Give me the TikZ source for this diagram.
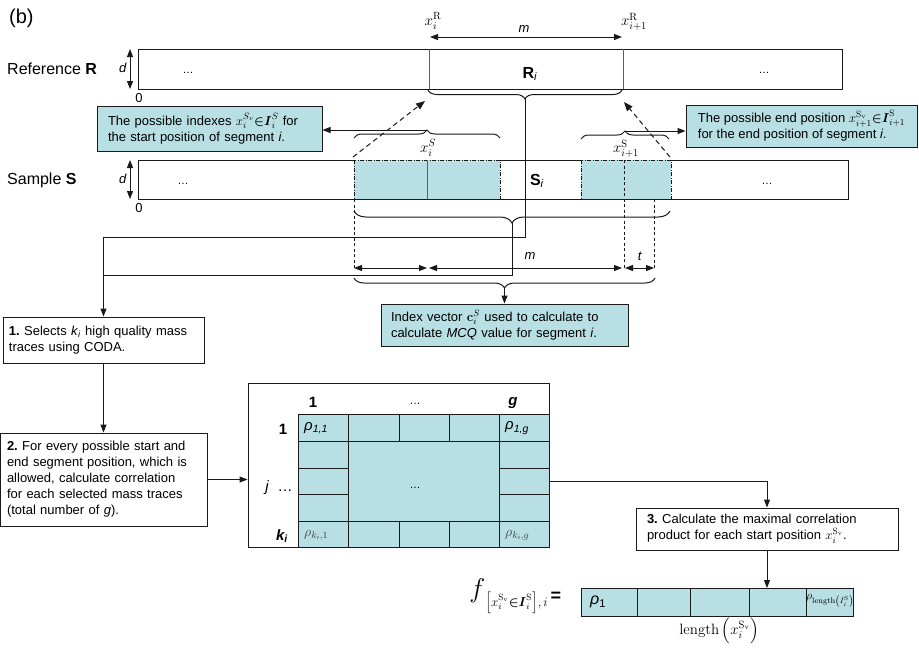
\RequirePackage{fix-cm}
\documentclass[tikz,border=0pt]{standalone}
\usepackage{amsmath}
\usepackage[no-math]{fontspec}
\setmainfont{Liberation Sans}
\usetikzlibrary{arrows.meta,decorations.pathreplacing}
\definecolor{tealfill}{RGB}{184,223,227}
\definecolor{edgec}{RGB}{25,25,25}
\definecolor{grayline}{RGB}{95,95,95}
\tikzset{
  base/.style={line width=1pt, draw=edgec},
  arr/.style={base, -{Triangle[length=8pt,width=6pt]}},
  dblarr/.style={base, {Triangle[length=8pt,width=6pt]}-{Triangle[length=8pt,width=6pt]}},
  brc/.style={base, decorate, decoration={brace, amplitude=#1}},
  brc/.default=8pt,
  mbrc/.style={base, decorate, decoration={brace, mirror, amplitude=#1}},
  mbrc/.default=8pt,
  txt/.style={inner sep=0pt, font=\fontsize{13}{16}\selectfont},
  mlab/.style={inner sep=0pt, font=\fontsize{15}{17}\selectfont},
  big/.style={inner sep=0pt, font=\fontsize{16}{19}\selectfont},
  dots/.style={inner sep=0pt, font=\fontsize{11}{13}\selectfont},
  flowbox/.style={base, fill=white, align=left, font=\fontsize{13}{16}\selectfont, inner xsep=4pt, inner ysep=0pt},
  callbox/.style={flowbox, fill=tealfill},
  dsh/.style={base, line width=0.8pt, dash pattern=on 3pt off 2.5pt},
  dsharr/.style={base, dash pattern=on 5pt off 3.5pt, -{Triangle[length=9pt,width=7pt]}},
  tealbox/.style={fill=tealfill, draw=edgec, line width=0.8pt, dash pattern=on 4pt off 1.5pt on 1pt off 1.5pt},
}
\begin{document}
\frenchspacing
\begin{tikzpicture}[x=1pt,y=-1pt]
\useasboundingbox (0,0) rectangle (919,649);

\node[anchor=west, inner sep=0pt, font=\fontsize{20}{22}\selectfont] (title) at (9,18) {(b)};

% ---------- Reference bar ----------
\draw[base] (138,49) rectangle (842,89);
\draw[base, draw=grayline] (429,49) -- (429,89);
\draw[base, draw=grayline] (623,49) -- (623,89);
\node[big, anchor=west] (reflbl) at (7,69) {Reference \textbf{R}};
\node[txt, anchor=east] (dR) at (127,68) {\textit{d}};
\coordinate (dRt) at (130,49); \coordinate (dRb) at (130,89);
\draw[dblarr] (dRt) -- (dRb);
\node[txt] (zR) at (139,98) {0};
\node[dots] (dotsR1) at (188,73) {…};
\node[dots] (dotsR2) at (764,73) {…};
\node[big] (Ri) at (530,74) {\textbf{R}\textsubscript{\textit{i}}};
\coordinate (xR1) at (430,37); \coordinate (xR2) at (622,37);
\draw[dblarr] (xR1) -- (xR2);
\node[txt] (mtop) at (524,29) {\textit{m}};
\node[mlab] (xRi) at (433,21) {$x_i^{\mathrm{R}}$};
\node[mlab] (xRi1) at (634,22) {$x_{i+1}^{\mathrm{R}}$};
\draw[mbrc=9pt] (428,90) -- (622,90);
\coordinate (Rtip) at (525,99);

% ---------- Sample bar ----------
\draw[base] (138,160) rectangle (848,199);
\draw[tealbox] (354,160) rectangle (500,199);
\draw[base, draw=grayline] (427,160) -- (427,199);
\draw[tealbox] (581,160) rectangle (671,199);
\node[big, anchor=west] (smplbl) at (7,180) {Sample \textbf{S}};
\node[txt, anchor=east] (dS) at (127,179) {\textit{d}};
\coordinate (dSt) at (130,160); \coordinate (dSb) at (130,199);
\draw[dblarr] (dSt) -- (dSb);
\node[txt] (zS) at (139,208) {0};
\node[dots] (dotsS1) at (183,184) {…};
\node[dots] (dotsS2) at (767,184) {…};
\node[big] (Si) at (537,181) {\textbf{S}\textsubscript{\textit{i}}};

% braces above the sample windows
\draw[brc=8pt] (354,138) -- (500,138);
\coordinate (Atip) at (427,130);
\node[mlab] (xSi) at (428,148) {$x_i^{S}$};
\draw[brc=8pt] (581,139) -- (669,139);
\coordinate (Btip) at (625,131);
\node[mlab] (xSi1) at (626,149) {$x_{i+1}^{\mathrm{S}}$};

% callouts
\node[callbox, inner xsep=11pt, text width=203pt, minimum height=45pt] (cL) at (209.5,128.5)
  {The possible indexes $x_i^{S_{v}}\mathord{\boldsymbol{\in}}\boldsymbol{I}_i^{S}$ for\\the start position of segment \textit{i}.};
\node[callbox, minimum width=231pt, minimum height=42pt] (cR) at (801.5,126)
  {The possible end position $x_{i+1}^{\mathrm{S}_{\mathrm{v}}}\mathord{\boldsymbol{\in}}\boldsymbol{I}_{i+1}^{\mathrm{S}}$\\for the end position of segment \textit{i}.};
\draw[arr] (Atip) -- (Atip -| cL.east);
\draw[arr] (Btip) -- (Btip -| cR.west);

% dashed pointers to R_i
\coordinate (dA0) at (353,157); \coordinate (dA1) at (425,101);
\coordinate (dB0) at (670,157); \coordinate (dB1) at (624,102);
\draw[dsharr] (dA0) -- (dA1);
\draw[dsharr] (dB0) -- (dB1);

% ---------- lower braces and dimension arrows ----------
\draw[mbrc=12pt] (354,211) -- (670,211);
\coordinate (Stip) at (512,223);

\node[flowbox, inner xsep=6pt, text width=189pt, minimum height=46pt] (b1) at (103.5,340)
  {\textbf{1.} Selects \textit{k}\textsubscript{\textit{i}} high quality mass\\traces using CODA.};

\coordinate (j1) at (103.5,237);
\coordinate (j2) at (103.5,275);
\draw[arr] (Rtip) -- (Rtip |- j1) -- (j1) -- (b1.north);
\draw[base] (Stip) -- (Stip |- j2) -- (j2);

\coordinate (v1) at (354,268); \coordinate (v2) at (427,268);
\coordinate (v3) at (624,268); \coordinate (v4) at (654,268);
\draw[dsh] (354,199) -- (v1);
\draw[dsh] (624,160) -- (v3);
\draw[dsh] (654,199) -- (v4);
\draw[dblarr] (v1) -- (v2);
\draw[dblarr] ([xshift=2pt]v2) -- ([xshift=-2pt]v3);
\draw[dblarr] ([xshift=1pt]v3) -- (v4);
\node[txt] (mlow) at (530,256) {\textit{m}};
\node[txt] (tlow) at (640,256) {\textit{t}};

\draw[mbrc=10pt] (354,278) -- (655,278);
\coordinate (Ctip) at (504.5,288);
\node[callbox, inner xsep=10pt, text width=227pt, minimum height=42pt] (cB) at (504.5,325)
  {Index vector $\mathbf{c}_i^{S}$ used to calculate to\\calculate \textit{MCQ} value for segment \textit{i}.};
\draw[arr] (Ctip) -- (cB.north);

% ---------- flow ----------
\node[flowbox, inner xsep=7pt, text width=193pt, minimum height=93pt] (b2) at (103.5,479.5)
  {\textbf{2.} For every possible start and\\end segment position, which is\\allowed, calculate correlation\\for each selected mass traces\\(total number of \textit{g}).};
\draw[arr] (b1.south) -- (b2.north);

% matrix
\node[base, draw, minimum width=301pt, minimum height=164pt, inner sep=0pt] (mat) at (398.5,465) {};
\fill[tealfill] (298,414) rectangle (549,547);
\draw[base] (298,414) -- (549,414);
\draw[base] (298,441) -- (549,441);
\draw[base] (298,521) -- (549,521);
\draw[base] (298,547) -- (549,547);
\draw[base] (298,468) -- (348,468);
\draw[base] (298,494) -- (348,494);
\draw[base] (499,468) -- (549,468);
\draw[base] (499,494) -- (549,494);
\draw[base] (298,414) -- (298,547);
\draw[base] (348,414) -- (348,547);
\draw[base] (499,414) -- (499,547);
\draw[base] (549,383) -- (549,547);
\draw[base] (399,414) -- (399,441);
\draw[base] (449,414) -- (449,441);
\draw[base] (399,521) -- (399,547);
\draw[base] (449,521) -- (449,547);

\node[big, font=\bfseries\fontsize{15}{18}\selectfont] (h1) at (313,402) {1};
\node[dots] (hd) at (415,404) {…};
\node[big, font=\bfseries\itshape\fontsize{15}{18}\selectfont] (hg) at (513,403) {g};
\node[big, font=\bfseries\fontsize{15}{18}\selectfont] (r1) at (283,429) {1};
\node[big, font=\fontsize{15}{18}\selectfont] (rj) at (279,488) {\textit{j} \ …};
\node[big, font=\bfseries\itshape\fontsize{15}{18}\selectfont] (rk) at (282,536) {k\textsubscript{i}};
\node[dots] (cd) at (415,488) {…};
\node[big, anchor=west, font=\fontsize{15}{18}\selectfont] (p11) at (304,428) {\textit{ρ\textsubscript{1,1}}};
\node[big, anchor=west, font=\fontsize{15}{18}\selectfont] (p1g) at (505,428) {\textit{ρ\textsubscript{1,g}}};
\node[txt, anchor=west, text=black!75, font=\fontsize{14}{16}\selectfont] (pk1) at (304,535) {$\rho_{k_i,1}$};
\node[txt, anchor=west, text=black!75, font=\fontsize{14}{16}\selectfont] (pkg) at (505,535) {$\rho_{k_i,g}$};

\draw[arr] (b2.east) -- (b2.east -| mat.west);

\node[flowbox, inner xsep=11pt, text width=240pt, minimum height=42pt] (b3) at (767,529)
  {\textbf{3.} Calculate the maximal correlation\\product for each start position $x_i^{\mathrm{S}_{\mathrm{v}}}$.};
\coordinate (m3) at (549,481);
\draw[arr] (m3) -| (b3.north);

% result vector
\coordinate (vt) at (767,588);
\draw[arr] (b3.south) -- (vt);
\draw[base, fill=tealfill] (581,588) rectangle (853,616);
\draw[base] (637,588) -- (637,616);
\draw[base] (690,588) -- (690,616);
\draw[base] (749,588) -- (749,616);
\draw[base] (806,588) -- (806,616);
\node[big, anchor=west] (r1v) at (590,602) {\textit{ρ}\textsubscript{1}};
\node[inner sep=0pt, font=\fontsize{12}{14}\selectfont] (rlv) at (830,601) {$\rho_{\mathrm{length}\left(I_i^{\mathrm{S}}\right)}$};
\node[inner sep=0pt, font=\fontsize{15}{17}\selectfont] (lenl) at (719,631) {$\mathrm{length}\left(x_i^{\mathrm{S}_{\mathrm{v}}}\right)$};
\node[inner sep=0pt, anchor=east] (fl) at (548,596)
  {\fontsize{27}{29}\selectfont$f$\raisebox{-9pt}{\fontsize{13}{15}\selectfont$\left[x_i^{\mathrm{S}_{\mathrm{v}}}\mathord{\boldsymbol{\in}}\boldsymbol{I}_i^{\mathrm{S}}\right]\!,i$}};
\node[inner sep=0pt, font=\bfseries\fontsize{18}{20}\selectfont] (eq) at (556,597) {=};
\end{tikzpicture}
\end{document}
